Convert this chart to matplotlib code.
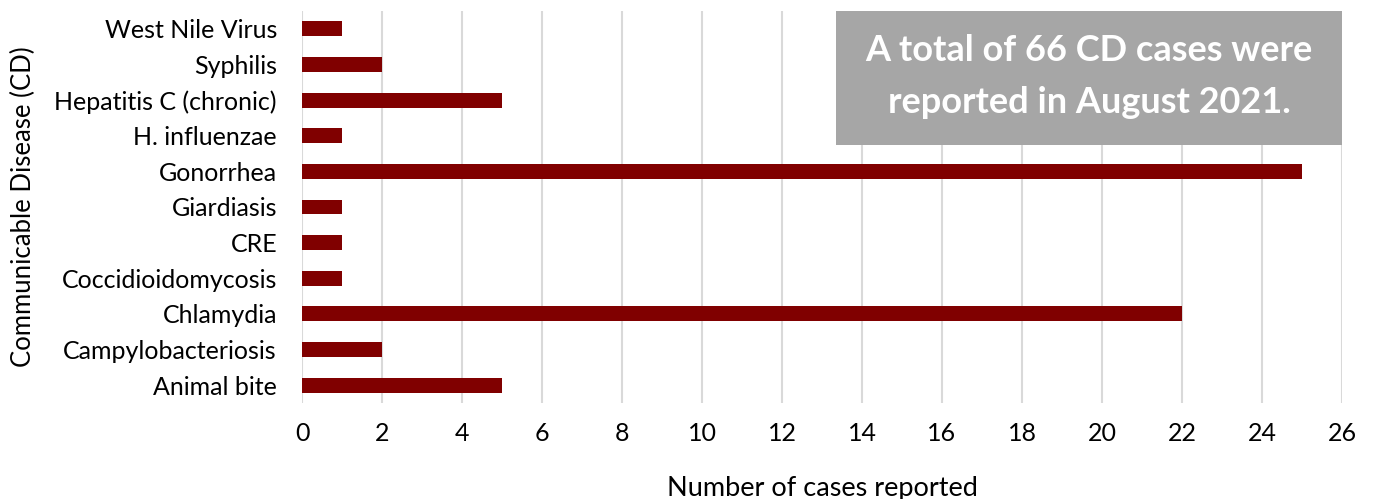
import matplotlib.pyplot as plt
from matplotlib.patches import Rectangle

diseases = ['Animal bite', 'Campylobacteriosis', 'Chlamydia', 'Coccidioidomycosis',
            'CRE', 'Giardiasis', 'Gonorrhea', 'H. influenzae',
            'Hepatitis C (chronic)', 'Syphilis', 'West Nile Virus']
cases = [5, 2, 22, 1, 1, 1, 25, 1, 5, 2, 1]
x_ticks = list(range(0, 27, 2))
note = 'A total of 66 CD cases were\nreported in August 2021.'

plt.rcParams['font.family'] = ['Lato', 'DejaVu Sans']

fig = plt.figure(figsize=(13.73, 4.99), dpi=100)
ax = fig.add_axes([302 / 1373, 1 - 403 / 499, 1040 / 1373, 392 / 499])

ax.barh(range(len(diseases)), cases, height=0.42, color='#800000', zorder=3)
ax.set_yticks(range(len(diseases)))
ax.set_yticklabels(diseases, fontsize=18)
ax.set_xticks(x_ticks)
ax.set_xticklabels([str(t) for t in x_ticks], fontsize=18)
ax.set_xlim(0, 26)
ax.set_ylim(-0.5, len(diseases) - 0.5)
ax.tick_params(length=0)
ax.tick_params(axis='x', pad=14)
ax.tick_params(axis='y', pad=18)
ax.grid(axis='x', color='#d9d9d9', linewidth=1.5, zorder=0)
for s in ax.spines.values():
    s.set_visible(False)

ax.set_xlabel('Number of cases reported', fontsize=19.5, labelpad=22)
ax.set_ylabel('Communicable Disease (CD)', fontsize=18.5, labelpad=13)

# grey note box in the upper right
box_top = len(diseases) - 0.5
box_bottom = box_top - (145 - 11) / 392 * len(diseases)
ax.add_patch(Rectangle((13.35, box_bottom), 26 - 13.35, box_top - box_bottom,
                       facecolor='#a6a6a6', edgecolor='none', zorder=4))
ax.text((13.35 + 26) / 2, (box_top + box_bottom) / 2 + 0.05, note, ha='center', va='center',
        fontsize=26, fontweight='bold', color='white', linespacing=1.7, zorder=5)

fig.savefig('out.png', dpi=100)
